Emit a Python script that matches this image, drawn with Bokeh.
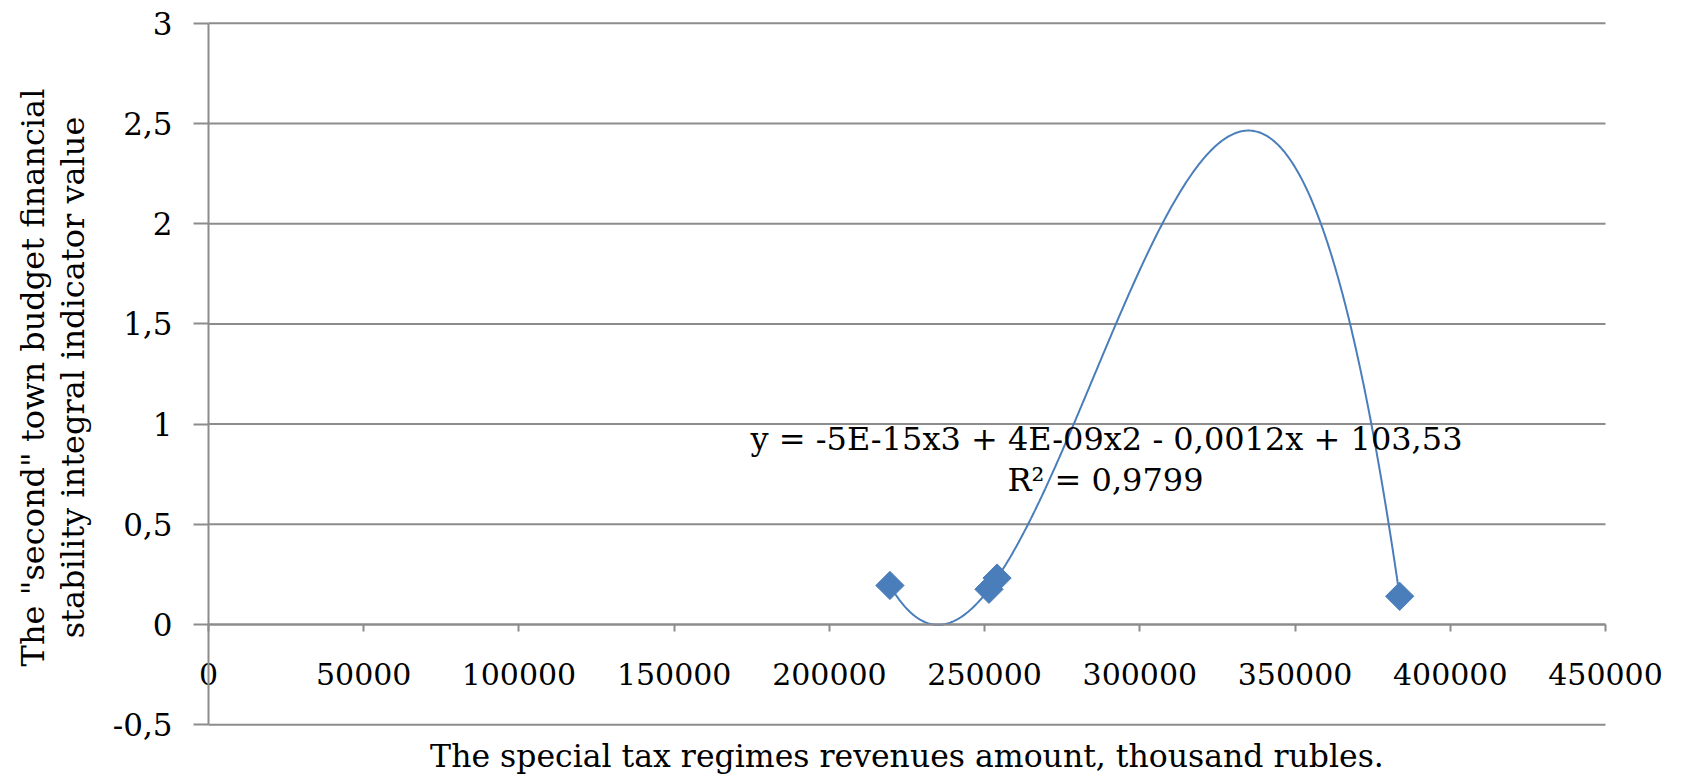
import numpy as np
from bokeh.plotting import figure
from bokeh.models import Range1d, FixedTicker, Label, CustomJSTickFormatter
from bokeh.embed import file_html
from bokeh.resources import INLINE

# ---- data ----
revenues = [219500, 251400, 254000, 383700]      # thousand rubles
indicator = [0.195, 0.176, 0.232, 0.141]          # integral indicator value
x_ticks = [0, 50000, 100000, 150000, 200000, 250000, 300000, 350000, 400000, 450000]
y_ticks = [-0.5, 0, 0.5, 1, 1.5, 2, 2.5, 3]
equation_text = "y = -5E-15x3 + 4E-09x2 - 0,0012x + 103,53"
r2_text = "R² = 0,9799"
x_title = "The special tax regimes revenues amount, thousand rubles."
y_title_1 = 'The "second" town budget financial'
y_title_2 = "stability integral indicator value"

FONT = "DejaVu Serif"
BLUE = "#4A7EBB"
GRAY = "#8C8C8C"

# ---- layout (page pixels) ----
W, H = 1689, 778
AX_L, AX_R = 208, 1605        # pixel of x = 0 and x = 450000
AX_T, AX_B = 22.7, 724.3      # pixel of y = 3 and y = -0.5
x0v, x1v = x_ticks[0], x_ticks[-1]
y0v, y1v = y_ticks[0], y_ticks[-1]
sx = (x1v - x0v) / (AX_R - AX_L)
sy = (y1v - y0v) / (AX_B - AX_T)


def X(px):
    return x0v + (px - AX_L) * sx


def Y(py):
    return y1v - (py - AX_T) * sy


p = figure(width=W, height=H, x_range=Range1d(X(0), X(W)), y_range=Range1d(Y(H), Y(0)),
           output_backend="svg", toolbar_location=None,
           min_border_left=0, min_border_right=0, min_border_top=0, min_border_bottom=0)
p.outline_line_color = None
p.background_fill_color = "white"
p.border_fill_color = "white"
p.xgrid.visible = False
p.ygrid.visible = False

# horizontal gridlines spanning the axis extent only
p.segment(x0=[x0v] * len(y_ticks), x1=[x1v] * len(y_ticks), y0=y_ticks, y1=y_ticks,
          line_color=GRAY, line_width=2)

# y axis crossing at x = 0
ya = p.yaxis[0]
ya.fixed_location = 0
ya.bounds = (y0v, y1v)
ya.ticker = FixedTicker(ticks=y_ticks)
ya.formatter = CustomJSTickFormatter(code="return tick.toString().replace('.', ',');")
ya.axis_line_color = GRAY
ya.axis_line_width = 2
ya.major_tick_line_color = GRAY
ya.major_tick_line_width = 2
ya.major_tick_out = 15
ya.major_tick_in = 0
ya.minor_tick_line_color = None
ya.major_label_text_font = FONT
ya.major_label_text_font_size = "31px"
ya.major_label_text_color = "black"
ya.major_label_standoff = 21

# x axis crossing at y = 0
xa = p.xaxis[0]
xa.fixed_location = 0
xa.bounds = (x0v, x1v)
xa.ticker = FixedTicker(ticks=x_ticks)
xa.formatter = CustomJSTickFormatter(code="return tick.toFixed(0);")
xa.axis_line_color = GRAY
xa.axis_line_width = 2
xa.major_tick_line_color = GRAY
xa.major_tick_line_width = 2
xa.major_tick_out = 7
xa.major_tick_in = 0
xa.minor_tick_line_color = None
xa.major_label_text_font = FONT
xa.major_label_text_font_size = "30px"
xa.major_label_text_color = "black"
xa.major_label_standoff = 31

# axis titles
p.add_layout(Label(x=(x0v + x1v) / 2, y=Y(755), text=x_title, text_align="center",
                   text_baseline="middle", text_font=FONT, text_font_size="31.5px",
                   text_color="black"))
p.add_layout(Label(x=X(32), y=Y(377), text=y_title_1, angle=np.pi / 2,
                   text_align="center", text_baseline="middle", text_font=FONT,
                   text_font_size="32px", text_color="black"))
p.add_layout(Label(x=X(72), y=Y(377), text=y_title_2, angle=np.pi / 2,
                   text_align="center", text_baseline="middle", text_font=FONT,
                   text_font_size="32px", text_color="black"))

# cubic trend line fitted to the data
xk = np.array(revenues, dtype=float) / 1000.0
coef = np.polyfit(xk, np.array(indicator, dtype=float), 3)
xx = np.linspace(xk.min(), xk.max(), 500)
yy = np.polyval(coef, xx)
p.line(xx * 1000.0, yy, line_color=BLUE, line_width=2)

# data markers (diamonds)
p.scatter(revenues, indicator, marker="square", angle=np.pi / 4, size=20,
          fill_color=BLUE, line_color=BLUE)

# equation labels
p.add_layout(Label(x=X(1106), y=Y(438), text=equation_text, text_align="center",
                   text_baseline="middle", text_font=FONT, text_font_size="32px",
                   text_color="black"))
p.add_layout(Label(x=X(1105), y=Y(479), text=r2_text, text_align="center",
                   text_baseline="middle", text_font=FONT, text_font_size="32px",
                   text_color="black"))

open("out.html", "w").write(file_html(p, INLINE))
